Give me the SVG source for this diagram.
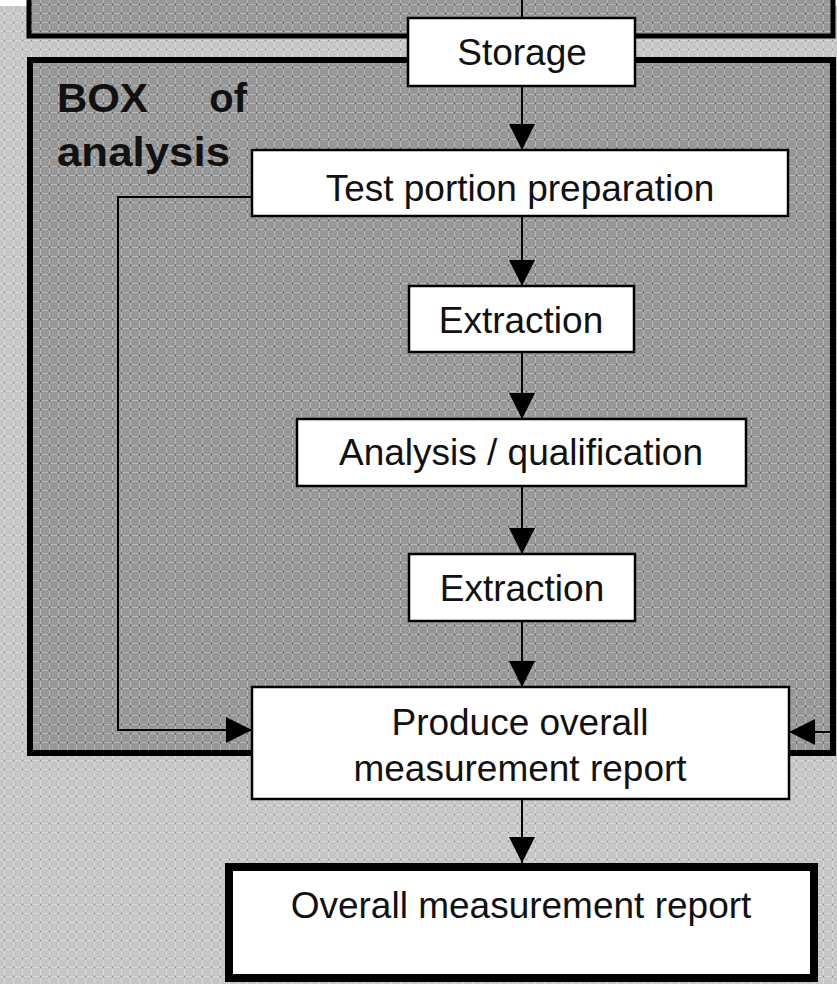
<svg xmlns="http://www.w3.org/2000/svg" width="837" height="984" viewBox="0 0 837 984">
  <defs>
    <!-- halftone-like screen fills -->
    <pattern id="screenLight" width="9" height="9" patternUnits="userSpaceOnUse">
      <rect width="9" height="9" fill="#c6c6c6"/>
      <path d="M0 4.5H9M4.5 0V9" stroke="#dcdcdc" stroke-width="1"/>
      <circle cx="4.5" cy="4.5" r="0.9" fill="#8a8a8a"/>
    </pattern>
    <pattern id="screenDark" width="9" height="9" patternUnits="userSpaceOnUse">
      <rect width="9" height="9" fill="#979797"/>
      <path d="M0 4.5H9M4.5 0V9" stroke="#b9b9b9" stroke-width="1"/>
      <circle cx="4.5" cy="4.5" r="0.9" fill="#505050"/>
    </pattern>
    <marker id="arrow" viewBox="0 0 26 26" refX="26" refY="13" markerWidth="26" markerHeight="26" markerUnits="userSpaceOnUse" orient="auto">
      <path d="M0 0L26 13L0 26Z" fill="#000"/>
    </marker>
  </defs>
  <style>
    .node rect { fill: #ffffff; stroke: #000; stroke-width: 2.5; }
    .label { font-family: "Liberation Sans", Arial, sans-serif; font-size: 37px; fill: #111; text-anchor: middle; }
    .title { font-family: "Liberation Sans", Arial, sans-serif; font-weight: bold; font-size: 40px; fill: #111; }
    .conn { fill: none; stroke: #000; stroke-width: 2; }
    .frame { stroke: #000; }
  </style>

  <!-- page background -->
  <rect x="0" y="0" width="837" height="984" fill="#ffffff"/>
  <rect x="0" y="6" width="837" height="978" fill="url(#screenLight)"/>

  <!-- upper process box (continues above) -->
  <rect class="frame" x="29" y="-10" width="804" height="46" fill="url(#screenDark)" stroke-width="5"/>

  <!-- BOX of analysis frame -->
  <g id="box-of-analysis">
    <rect class="frame" x="30" y="60" width="803" height="693" fill="url(#screenDark)" stroke-width="6"/>
    <text class="title" x="57" y="112" textLength="91" lengthAdjust="spacingAndGlyphs">BOX</text>
    <text class="title" x="247" y="112" text-anchor="end">of</text>
    <text class="title" x="57" y="166" textLength="173" lengthAdjust="spacingAndGlyphs">analysis</text>
  </g>

  <!-- connectors -->
  <g id="connectors">
    <path class="conn" d="M522 0V18"/>
    <path class="conn" d="M522 86V150" marker-end="url(#arrow)"/>
    <path class="conn" d="M522 216V286" marker-end="url(#arrow)"/>
    <path class="conn" d="M522 352V419" marker-end="url(#arrow)"/>
    <path class="conn" d="M522 486V554" marker-end="url(#arrow)"/>
    <path class="conn" d="M522 621V687" marker-end="url(#arrow)"/>
    <path class="conn" d="M522 799V863" marker-end="url(#arrow)"/>
    <path class="conn" d="M252 197H118V730H252" marker-end="url(#arrow)"/>
    <path class="conn" d="M833 732H789" marker-end="url(#arrow)"/>
  </g>

  <g id="storage" class="node">
    <rect x="408" y="18" width="227" height="68"/>
    <text class="label" x="522" y="65">Storage</text>
  </g>

  <g id="test-portion-preparation" class="node">
    <rect x="252" y="150" width="536" height="66"/>
    <text class="label" x="520" y="201">Test portion preparation</text>
  </g>

  <g id="extraction-1" class="node">
    <rect x="409" y="286" width="225" height="66"/>
    <text class="label" x="521" y="333">Extraction</text>
  </g>

  <g id="analysis-qualification" class="node">
    <rect x="297" y="419" width="449" height="67"/>
    <text class="label" x="521" y="465">Analysis / qualification</text>
  </g>

  <g id="extraction-2" class="node">
    <rect x="409" y="554" width="226" height="67"/>
    <text class="label" x="522" y="601">Extraction</text>
  </g>

  <g id="produce-report" class="node">
    <rect x="252" y="687" width="537" height="112"/>
    <text class="label" x="520" y="735">Produce overall</text>
    <text class="label" x="520" y="781">measurement report</text>
  </g>

  <g id="overall-report" class="node">
    <rect x="229" y="867" width="585" height="111" style="stroke-width:8"/>
    <text class="label" x="521" y="918">Overall measurement report</text>
  </g>
</svg>
